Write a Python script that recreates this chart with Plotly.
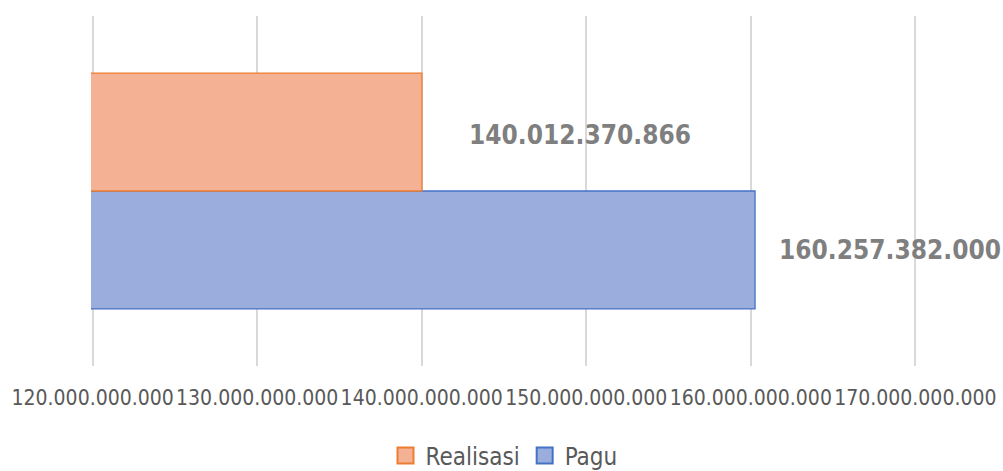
import plotly.graph_objects as go

categories = [""]
series_names = ["Realisasi", "Pagu"]
realisasi = [140012370866]
pagu = [160257382000]
realisasi_label = ["140.012.370.866"]
pagu_label = ["160.257.382.000"]
tick_vals = [120e9, 130e9, 140e9, 150e9, 160e9, 170e9]
tick_text = ["120.000.000.000", "130.000.000.000", "140.000.000.000",
             "150.000.000.000", "160.000.000.000", "170.000.000.000"]

FONT = "DejaVu Sans Condensed, sans-serif"
ORANGE_FILL, ORANGE_LINE = "#F5B193", "#ED7D31"
BLUE_FILL, BLUE_LINE = "#9AADDD", "#4472C4"

fig = go.Figure()
fig.add_trace(go.Bar(
    y=categories, x=pagu, name=series_names[1], orientation="h", showlegend=False,
    marker=dict(color=BLUE_FILL, line=dict(color=BLUE_LINE, width=1.3)),
))
fig.add_trace(go.Bar(
    y=categories, x=realisasi, name=series_names[0], orientation="h", showlegend=False,
    marker=dict(color=ORANGE_FILL, line=dict(color=ORANGE_LINE, width=1.3)),
))
# legend entries (larger square symbols)
fig.add_trace(go.Scatter(x=[None], y=[None], mode="markers", name=series_names[0],
                         marker=dict(symbol="square", size=16, color=ORANGE_FILL,
                                     line=dict(color=ORANGE_LINE, width=2))))
fig.add_trace(go.Scatter(x=[None], y=[None], mode="markers", name=series_names[1],
                         marker=dict(symbol="square", size=16, color=BLUE_FILL,
                                     line=dict(color=BLUE_LINE, width=2))))

label_font = dict(family=FONT, size=26, color="#7F7F7F", weight="bold")
fig.add_annotation(x=realisasi[0], y=0, xref="x", yref="y", text=realisasi_label[0],
                   showarrow=False, xanchor="left", xshift=45, yshift=56, font=label_font)
fig.add_annotation(x=pagu[0], y=0, xref="x", yref="y", text=pagu_label[0],
                   showarrow=False, xanchor="left", xshift=22, yshift=-59, font=label_font)

fig.update_layout(
    width=1003, height=471,
    margin=dict(l=91, r=86, t=16, b=105, autoexpand=False),
    paper_bgcolor="white", plot_bgcolor="white",
    barmode="group", bargap=0.326, bargroupgap=0,
    showlegend=True,
    legend=dict(orientation="h", x=0.5, xanchor="center", xref="paper",
                y=-0.257, yanchor="middle", itemsizing="trace",
                font=dict(family=FONT, size=24, color="#595959"),
                itemwidth=30),
    font=dict(family=FONT),
)
fig.update_xaxes(range=[119.9e9, 170.1e9], tickvals=tick_vals, ticktext=tick_text,
                 showgrid=True, gridcolor="#D9D9D9", gridwidth=1.5,
                 zeroline=False, showline=False, ticks="", tickangle=0, automargin=False,
                 tickfont=dict(family=FONT, size=21, color="#595959"),
                 ticklabelstandoff=17)
fig.update_yaxes(showticklabels=False, showgrid=False, zeroline=False, showline=False,
                 range=[-0.5, 0.5], automargin=False)

fig.write_html("out.html", config={"displayModeBar": False},
               post_script="document.body.style.margin='0';document.body.style.overflow='hidden';")
